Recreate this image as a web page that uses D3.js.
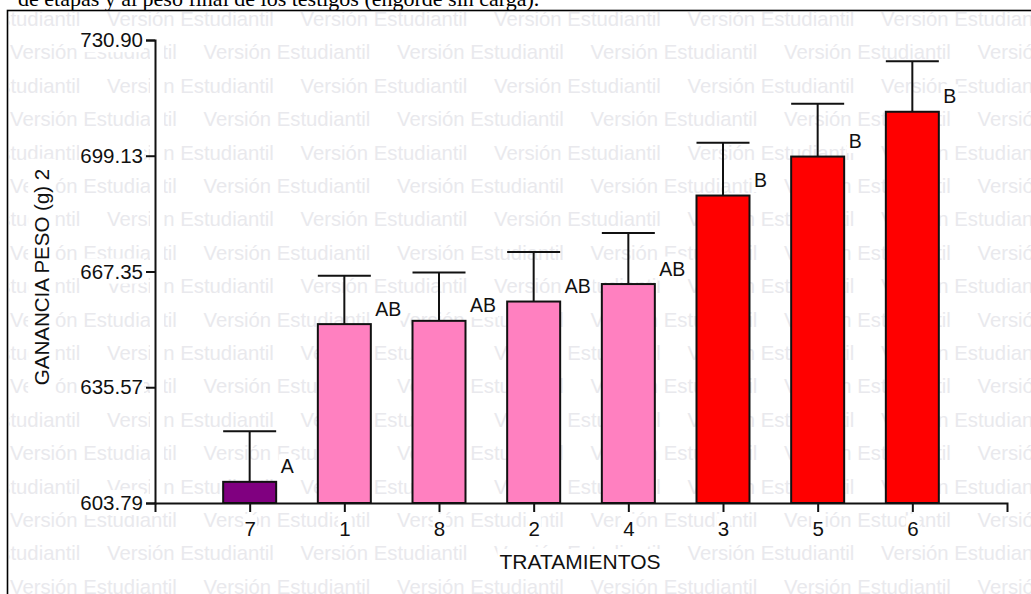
<!DOCTYPE html>
<html>
<head>
<meta charset="utf-8">
<script src="https://cdn.jsdelivr.net/npm/d3@7"></script>
<style>
  body { margin: 0; background: #fff; }
  svg { display: block; }
</style>
</head>
<body>
<svg id="chart" width="1031" height="594"></svg>
<script>
// Treatments in plotted order, mean weight gain, error (SE) and Tukey group
const categories = ["7", "1", "8", "2", "4", "3", "5", "6"];
const means = [609.6, 652.9, 653.8, 659.1, 663.9, 688.2, 698.9, 711.2];
const errors = [13.9, 13.3, 13.3, 13.6, 14.0, 14.5, 14.5, 13.9];
const groups = ["A", "AB", "AB", "AB", "AB", "B", "B", "B"];
const yTicks = [603.79, 635.57, 667.35, 699.13, 730.90];

const yTitle = "GANANCIA PESO (g) 2";
const xTitle = "TRATAMIENTOS";
const caption = "de etapas y al peso final de los testigos (engorde sin carga).";
const watermark = "Versión Estudiantil";

const groupColor = { A: "#800080", AB: "#ff80c0", B: "#ff0000" };

const W = 1031, H = 594;
const plot = { left: 155, right: 1007, top: 40, bottom: 503 };
const barW = 53;
const ink = "#111";
const sans = "'Liberation Sans', Arial, sans-serif";

const svg = d3.select("#chart");
svg.append("rect").attr("width", W).attr("height", H).attr("fill", "#fff");

// caption line above the frame (partly outside the page)
svg.append("text")
  .attr("x", 18).attr("y", 6)
  .attr("font-family", "'Liberation Serif', 'Times New Roman', serif")
  .attr("font-size", 22)
  .attr("fill", "#000")
  .text(caption);

// frame clip
svg.append("defs").append("clipPath").attr("id", "frameClip")
  .append("rect").attr("x", 9).attr("y", 12).attr("width", W).attr("height", H);

// background watermark rows
const wm = svg.append("g").attr("clip-path", "url(#frameClip)")
  .attr("font-family", sans).attr("font-size", 20.3).attr("fill", "#e9e9ed");
const period = 193.5;
for (let k = 0; k < 19; k++) {
  const base = 26 + 33.4 * k;
  let start = (k % 2 === 0 ? 107 : 10) - period;
  for (let xx = start; xx < W; xx += period) {
    wm.append("text").attr("x", xx).attr("y", base).text(watermark);
  }
}

svg.append("rect")
  .attr("x", 7.5).attr("y", 10.5).attr("width", W + 20).attr("height", H + 20)
  .attr("fill", "none").attr("stroke", "#000").attr("stroke-width", 1.6);

const x = d3.scalePoint().domain(categories).range([plot.left, plot.right]).padding(1);
const y = d3.scaleLinear().domain([yTicks[0], yTicks[yTicks.length - 1]]).range([plot.bottom, plot.top]);

// white strip along the value axis
svg.append("rect").attr("x", 150).attr("y", 30).attr("width", 14).attr("height", 482).attr("fill", "#fff");

const data = categories.map((c, i) => ({ c, m: means[i], e: errors[i], g: groups[i] }));

// bars
svg.append("g").selectAll("rect").data(data).join("rect")
  .attr("x", d => x(d.c) - barW / 2)
  .attr("y", d => y(d.m))
  .attr("width", barW)
  .attr("height", d => y(yTicks[0]) - y(d.m))
  .attr("fill", d => groupColor[d.g])
  .attr("stroke", ink).attr("stroke-width", 2);

// error bars
const eb = svg.append("g").attr("stroke", ink).attr("stroke-width", 2);
eb.selectAll("line.v").data(data).join("line").attr("class", "v")
  .attr("x1", d => x(d.c)).attr("x2", d => x(d.c))
  .attr("y1", d => y(d.m)).attr("y2", d => y(d.m + d.e));
eb.selectAll("line.cap").data(data).join("line").attr("class", "cap")
  .attr("x1", d => x(d.c) - barW / 2).attr("x2", d => x(d.c) + barW / 2)
  .attr("y1", d => y(d.m + d.e)).attr("y2", d => y(d.m + d.e));

function whiteBehind(sel, padX, padY) {
  sel.each(function () {
    const b = this.getBBox();
    d3.select(this.parentNode).insert("rect", () => this)
      .attr("x", b.x - padX).attr("y", b.y - padY)
      .attr("width", b.width + 2 * padX).attr("height", b.height + 2 * padY)
      .attr("fill", "#fff");
  });
}

// axes
const yAxis = svg.append("g").attr("transform", `translate(${plot.left},0)`)
  .call(d3.axisLeft(y).tickValues(yTicks).tickFormat(d3.format(".2f"))
    .tickSize(9).tickSizeOuter(9).tickPadding(3));
const xAxis = svg.append("g").attr("transform", `translate(0,${plot.bottom})`)
  .call(d3.axisBottom(x).tickSize(9).tickSizeOuter(9).tickPadding(9));

[yAxis, xAxis].forEach(a => {
  a.selectAll("path, line").attr("stroke", ink).attr("stroke-width", 2);
  a.selectAll("text").attr("font-family", sans).attr("font-size", 20.5).attr("fill", ink);
  whiteBehind(a.selectAll("text"), 1, 1);
});

// group letters
const lab = svg.append("g");
const letters = lab.selectAll("text").data(data).join("text")
  .attr("x", d => x(d.c) + 31)
  .attr("y", d => y(d.m) - 8.5)
  .attr("font-family", sans).attr("font-size", 19.5).attr("fill", ink)
  .text(d => d.g);
whiteBehind(letters, 2, 1);

// axis titles
const yt = svg.append("g").attr("transform", "translate(42,277) rotate(-90)");
const ytText = yt.append("text")
  .attr("text-anchor", "middle").attr("dy", "0.35em")
  .attr("font-family", sans).attr("font-size", 20.5).attr("fill", ink)
  .text(yTitle);
whiteBehind(ytText, 10, 2);

const xt = svg.append("g");
const xtText = xt.append("text")
  .attr("x", 580).attr("y", 569).attr("text-anchor", "middle")
  .attr("font-family", sans).attr("font-size", 21).attr("fill", ink)
  .text(xTitle);
whiteBehind(xtText, 2, 1);
</script>
</body>
</html>
